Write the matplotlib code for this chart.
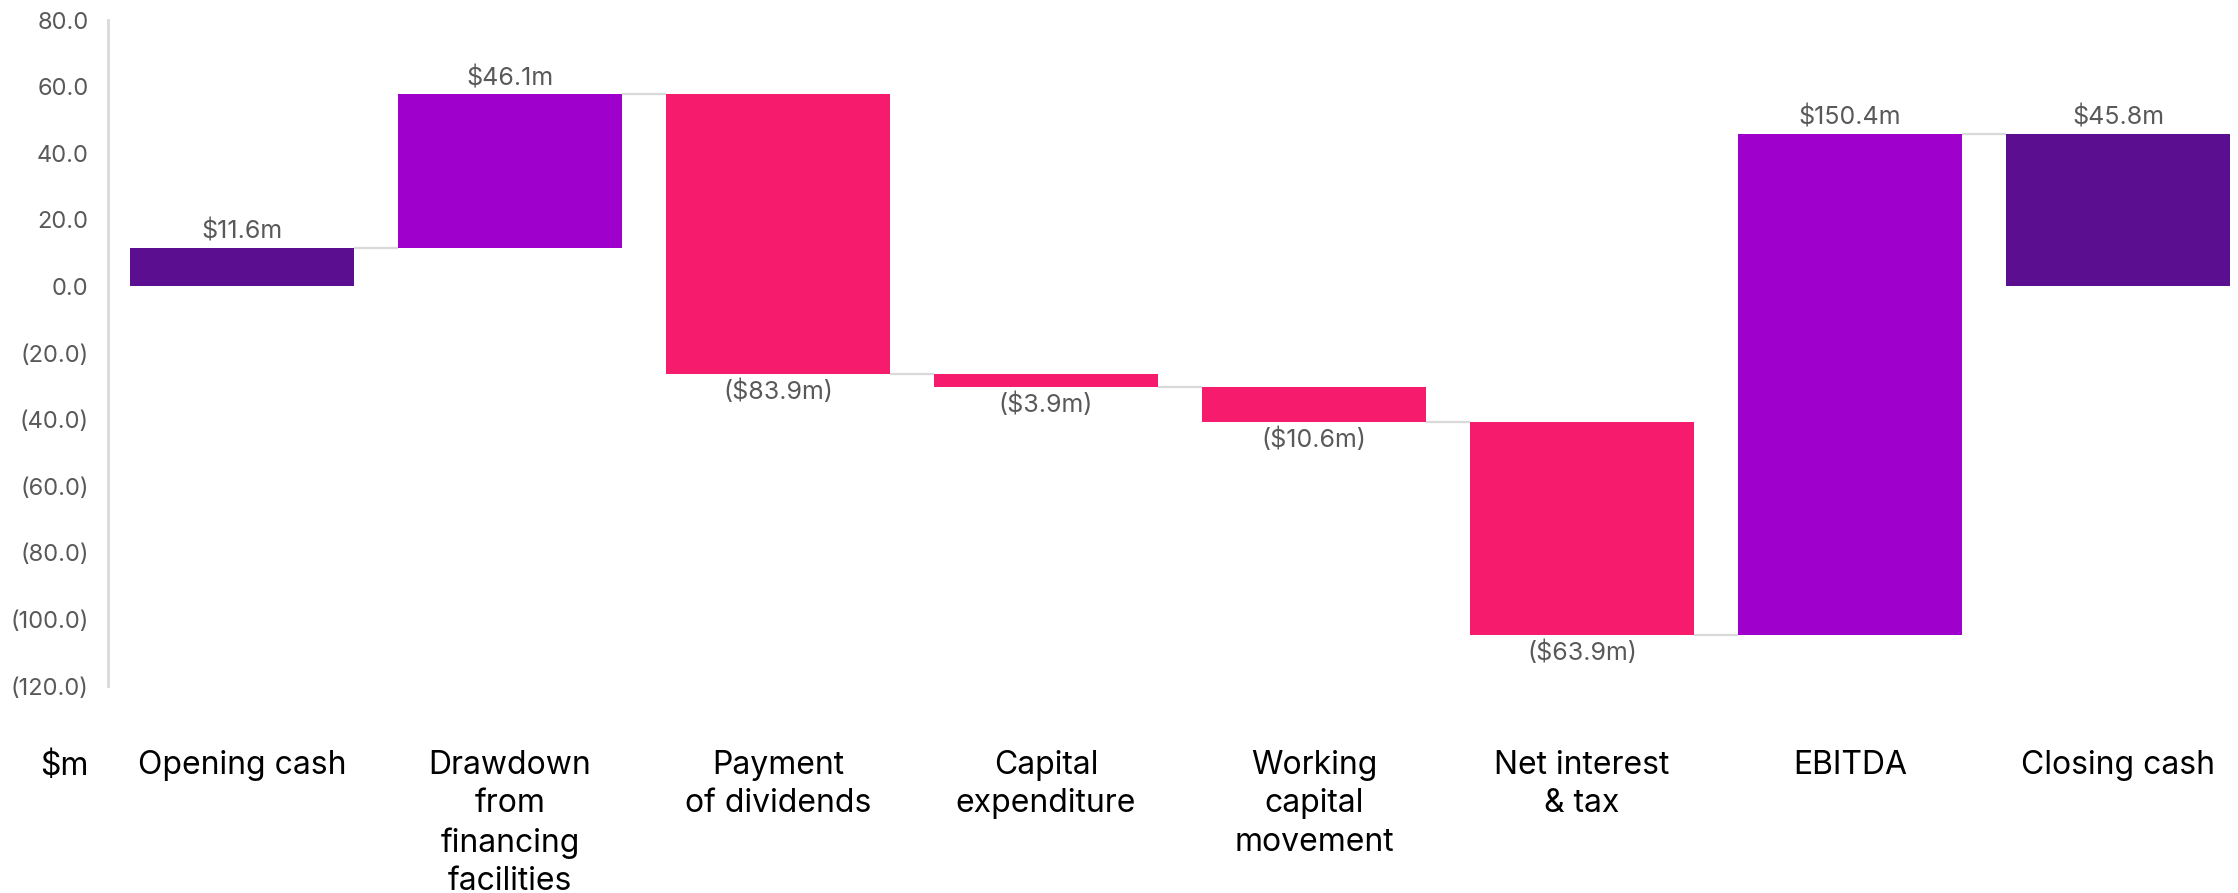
import matplotlib
matplotlib.use("Agg")
import matplotlib.pyplot as plt
import numpy as np
from matplotlib.ticker import FuncFormatter

CATEGORIES = [
    "Opening cash",
    "Drawdown\nfrom\nfinancing\nfacilities",
    "Payment\nof dividends",
    "Capital\nexpenditure",
    "Working\ncapital\nmovement",
    "Net interest\n& tax",
    "EBITDA",
    "Closing cash",
]
VALUES = [11.6, 46.1, -83.9, -3.9, -10.6, -63.9, 150.4, 45.8]
IS_TOTAL = [True, False, False, False, False, False, False, True]

TOTAL_COLOR = "#5B0E8F"
UP_COLOR = "#A000CC"
DOWN_COLOR = "#F71B6E"
TEXT_GREY = "#595959"
LINE_GREY = "#D9D9D9"

plt.rcParams["font.family"] = ["Inter", "DejaVu Sans"]


def money(v):
    return f"${v:.1f}m" if v >= 0 else f"(${-v:.1f}m)"


def axis_fmt(v, _):
    return f"{v:.1f}" if v >= 0 else f"({-v:.1f})"


# waterfall geometry: totals start at zero, deltas float on the running sum
bottoms, tops, ends = [], [], []
running = 0.0
for value, total in zip(VALUES, IS_TOTAL):
    if total:
        lo, hi = 0.0, value
        running = value
    else:
        lo, hi = running, running + value
        running += value
    bottoms.append(min(lo, hi))
    tops.append(max(lo, hi))
    ends.append(running)
bottoms = np.array(bottoms)
tops = np.array(tops)
colors = [TOTAL_COLOR if t else (UP_COLOR if v >= 0 else DOWN_COLOR) for v, t in zip(VALUES, IS_TOTAL)]

W, H = 2238, 893
fig = plt.figure(figsize=(W / 100, H / 100), dpi=100)
ax = fig.add_axes([108 / W, (H - 686) / H, (2252 - 108) / W, (686 - 20) / H])

x = np.arange(len(CATEGORIES))
width = 0.835
ax.bar(x, tops - bottoms, bottom=bottoms, width=width, color=colors, zorder=2)

for i in range(len(x) - 1):
    ax.plot([x[i] + width / 2, x[i + 1] - width / 2], [ends[i], ends[i]],
            color=LINE_GREY, lw=1.6, zorder=1, solid_capstyle="butt")

for i, v in enumerate(VALUES):
    if v >= 0:
        ax.annotate(money(v), (x[i], tops[i]), xytext=(0, 3), textcoords="offset points",
                    ha="center", va="bottom", fontsize=18, color=TEXT_GREY)
    else:
        ax.annotate(money(v), (x[i], bottoms[i]), xytext=(0, -4), textcoords="offset points",
                    ha="center", va="top", fontsize=18, color=TEXT_GREY)

ax.set_xlim(-0.5, len(CATEGORIES) - 0.5)
ax.set_ylim(-120, 80)
ax.set_yticks(np.arange(-120, 81, 20))
ax.yaxis.set_major_formatter(FuncFormatter(axis_fmt))
ax.tick_params(axis="y", length=0, pad=14, labelsize=17, labelcolor=TEXT_GREY)
ax.set_xticks(x)
ax.set_xticklabels(CATEGORIES, fontsize=23, color="black", linespacing=1.31, va="top")
ax.tick_params(axis="x", length=0, pad=46)

for side in ["top", "right", "bottom"]:
    ax.spines[side].set_visible(False)
ax.spines["left"].set_color(LINE_GREY)
ax.spines["left"].set_linewidth(2)

fig.text(89 / W, 1 - 767 / H, "$m", ha="right", va="center", fontsize=23, color="black")

fig.savefig("out.png", dpi=100)
